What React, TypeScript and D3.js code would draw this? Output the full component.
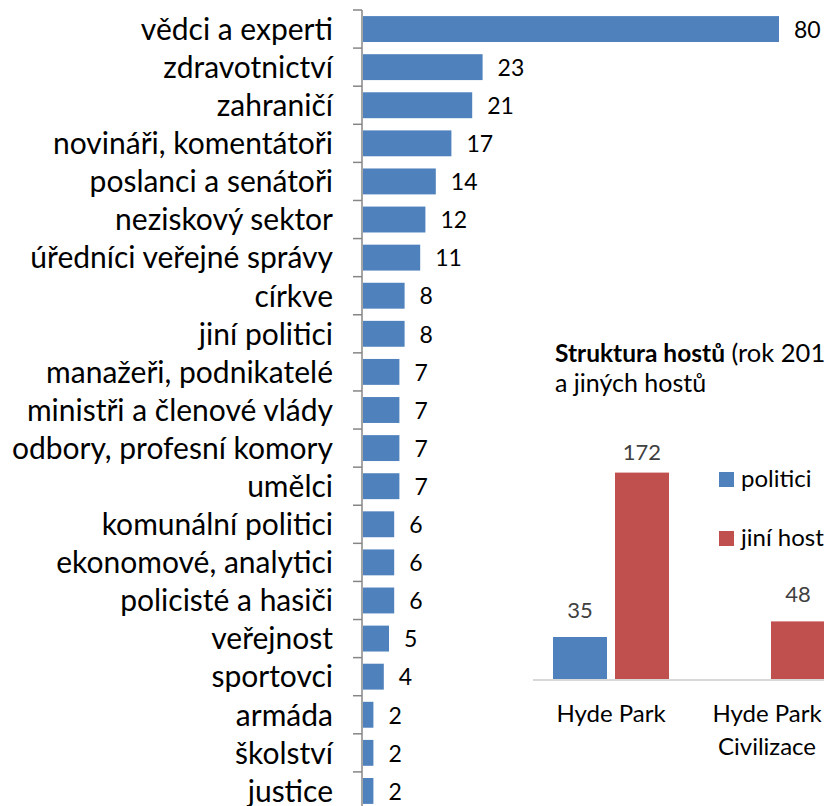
import { useEffect, useRef } from "react";
import * as d3 from "d3";

// main chart data
const categories = [
  "vědci a experti", "zdravotnictví", "zahraničí", "novináři, komentátoři",
  "poslanci a senátoři", "neziskový sektor", "úředníci veřejné správy", "církve",
  "jiní politici", "manažeři, podnikatelé", "ministři a členové vlády",
  "odbory, profesní komory", "umělci", "komunální politici", "ekonomové, analytici",
  "policisté a hasiči", "veřejnost", "sportovci", "armáda", "školství", "justice",
];
const values = [80, 23, 21, 17, 14, 12, 11, 8, 8, 7, 7, 7, 7, 6, 6, 6, 5, 4, 2, 2, 2];

// inset chart data
const insetGroups = ["Hyde Park", "Hyde Park Civilizace"];
const insetGroupLines = [["Hyde Park"], ["Hyde Park", "Civilizace"]];
const insetSeries = ["politici", "jiní hosté"];
const politiciValues: (number | null)[] = [35, null];
const jiniValues: (number | null)[] = [172, 48];

const BLUE = "#4f81bd";
const RED = "#c0504d";
const FONT = "Lato, sans-serif";

export default function App() {
  const svgRef = useRef<SVGSVGElement>(null);
  const width = 824, height = 806;

  useEffect(() => {
    const svg = d3.select(svgRef.current);
    svg.selectAll("*").remove();

    // ---- main horizontal bar chart
    const x = d3.scaleLinear().domain([0, 80]).range([363, 779]);
    const y = d3.scaleBand().domain(categories).range([10, 810]).paddingInner(0.32).paddingOuter(0.16);

    const main = svg.append("g");
    main.selectAll("rect.bar")
      .data(values)
      .enter()
      .append("rect")
      .attr("class", "bar")
      .attr("x", x(0))
      .attr("y", (d, i) => y(categories[i])!)
      .attr("width", d => x(d) - x(0))
      .attr("height", y.bandwidth())
      .attr("fill", BLUE);

    // axis line + ticks at band boundaries
    main.append("line")
      .attr("x1", 362).attr("x2", 362)
      .attr("y1", 10).attr("y2", height)
      .attr("stroke", "#868686").attr("stroke-width", 1.5);
    const step = y.step();
    d3.range(categories.length + 1).forEach(i => {
      main.append("line")
        .attr("x1", 353).attr("x2", 362)
        .attr("y1", 10 + i * step).attr("y2", 10 + i * step)
        .attr("stroke", "#868686").attr("stroke-width", 1.5);
    });

    main.selectAll("text.cat")
      .data(categories)
      .enter()
      .append("text")
      .attr("class", "cat")
      .attr("x", 333)
      .attr("y", d => y(d)! + y.bandwidth() / 2)
      .attr("dy", "0.36em")
      .attr("text-anchor", "end")
      .attr("font-family", FONT)
      .attr("font-size", 30)
      .attr("fill", "#000")
      .text(d => d);

    main.selectAll("text.val")
      .data(values)
      .enter()
      .append("text")
      .attr("class", "val")
      .attr("x", d => x(d) + 15)
      .attr("y", (d, i) => y(categories[i])! + y.bandwidth() / 2)
      .attr("dy", "0.38em")
      .attr("font-family", FONT)
      .attr("font-size", 23)
      .attr("fill", "#000")
      .text(d => d);

    // ---- inset column chart
    const inset = svg.append("g");
    const gx = d3.scaleBand().domain(insetGroups).range([533, 845]);
    const sx = d3.scaleBand().domain(insetSeries).range([20, 136]).paddingInner(0.129);
    const gy = d3.scaleLinear().domain([0, 200]).range([679, 439]);

    const title = inset.append("text")
      .attr("x", 555).attr("y", 362)
      .attr("font-family", FONT).attr("font-size", 24.5).attr("fill", "#000");
    title.append("tspan").attr("font-weight", "bold").text("Struktura hostů");
    title.append("tspan").attr("font-size", 25.5).text(" (rok 201");
    inset.append("text")
      .attr("x", 555).attr("y", 392)
      .attr("font-family", FONT).attr("font-size", 25).attr("fill", "#000")
      .text("a jiných hostů");

    const seriesData = [politiciValues, jiniValues];
    const colors = [BLUE, RED];
    seriesData.forEach((vals, s) => {
      vals.forEach((v, g) => {
        if (v == null) return;
        const bx = gx(insetGroups[g])! + sx(insetSeries[s])!;
        inset.append("rect")
          .attr("x", bx).attr("y", gy(v))
          .attr("width", sx.bandwidth()).attr("height", gy(0) - gy(v))
          .attr("fill", colors[s]);
        inset.append("text")
          .attr("x", bx + sx.bandwidth() / 2)
          .attr("y", Math.max(gy(v) - 19, 460))
          .attr("text-anchor", "middle")
          .attr("font-family", FONT).attr("font-size", 22).attr("fill", "#404040")
          .text(v);
      });
    });

    inset.append("line")
      .attr("x1", 533).attr("x2", width)
      .attr("y1", gy(0) + 1).attr("y2", gy(0) + 1)
      .attr("stroke", "#d9d9d9").attr("stroke-width", 2);

    insetGroups.forEach((g, i) => {
      insetGroupLines[i].forEach((line, j) => {
        inset.append("text")
          .attr("x", gx(g)! + gx.bandwidth() / 2)
          .attr("y", 722 + j * 33)
          .attr("text-anchor", "middle")
          .attr("font-family", FONT).attr("font-size", 24).attr("fill", "#000")
          .text(line);
      });
    });

    // legend
    insetSeries.forEach((s, i) => {
      inset.append("rect")
        .attr("x", 719).attr("y", 472 + i * 59)
        .attr("width", 15).attr("height", 15)
        .attr("fill", colors[i]);
      inset.append("text")
        .attr("x", 741).attr("y", 487 + i * 59)
        .attr("font-family", FONT).attr("font-size", 24).attr("fill", "#000")
        .text(s);
    });
  }, []);

  return (
    <svg
      ref={svgRef}
      width={width}
      height={height}
      viewBox={`0 0 ${width} ${height}`}
      style={{ position: "absolute", left: 0, top: 0, background: "#fff" }}
    />
  );
}
